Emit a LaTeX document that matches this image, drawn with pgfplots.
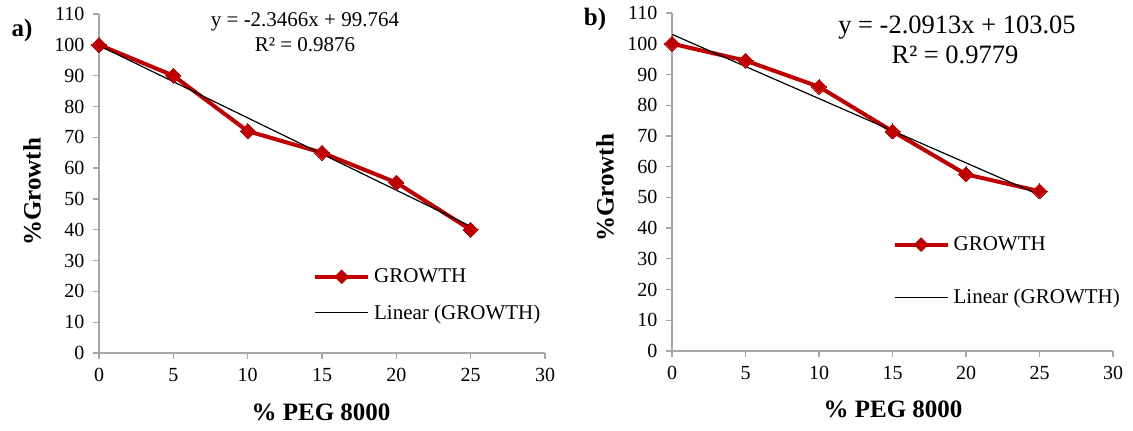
\documentclass[border=0pt]{standalone}
\usepackage{fontspec}
\setmainfont{Liberation Serif}
\usepackage{pgfplots}
\pgfplotsset{compat=1.18}
\definecolor{growthred}{RGB}{192,0,0}
\definecolor{axgray}{RGB}{166,166,166}
\pgfplotsset{
  peg/.style={
    scale only axis,
    anchor=south west,
    xmin=0, xmax=30, ymin=0, ymax=110,
    xtick={0,5,...,30}, ytick={0,10,...,110},
    axis x line=bottom, axis y line=left,
    axis line style={-, draw=axgray, line width=1.2pt},
    tick style={draw=axgray, line width=1.2pt},
    tick align=outside, major tick length=6pt,
    ticklabel style={font=\fontsize{20}{22}\selectfont},
    xticklabel style={yshift=-6pt},
    yticklabel style={xshift=-5pt},
    /pgf/number format/assume math mode=true,
    legend cell align=left,
    legend style={draw=none, fill=none, font=\fontsize{21}{24}\selectfont,
      anchor=north west, /tikz/every odd column/.append style={column sep=2pt}},
  },
  growthplot/.style={growthred, line width=4pt,
    mark=square*, mark size=5.3pt,
    mark options={rotate=45, solid, fill=growthred, draw=growthred, line width=0pt},
    legend image code/.code={
      \draw[growthred, line width=4pt] (0pt,0pt) -- (53pt,0pt);
      \fill[growthred] (22pt,0pt) -- ++(4.5pt,4.5pt) -- ++(4.5pt,-4.5pt) -- ++(-4.5pt,-4.5pt) -- cycle;
    }},
  trendplot/.style={black, line width=1.2pt,
    legend image code/.code={
      \draw[black, line width=1.2pt] (0pt,0pt) -- (53pt,0pt);
    }},
}
\begin{document}
\begin{tikzpicture}[x=1pt,y=1pt]
\path[use as bounding box] (0pt,0pt) rectangle (1133pt,431pt);

% Panel a
\begin{axis}[peg, at={(99pt,78pt)}, width=446pt, height=339pt,
  legend style={at={(0.473,0.26)}, row sep=16pt}]
  \addplot[growthplot] coordinates {(0,100) (5,90) (10,72) (15,65) (20,55.3) (25,40)};
  \addlegendentry{GROWTH}
  \addplot[trendplot] coordinates {(0,99.764) (25,41.099)};
  \addlegendentry{Linear (GROWTH)}
\end{axis}

% Panel b
\begin{axis}[peg, at={(672pt,80pt)}, width=441pt, height=338pt,
  legend style={at={(0.493,0.35)}, row sep=33pt}]
  \addplot[growthplot] coordinates {(0,100) (5,94.5) (10,86) (15,71.5) (20,57.5) (25,52)};
  \addlegendentry{GROWTH}
  \addplot[trendplot] coordinates {(0,103.05) (25,50.7675)};
  \addlegendentry{Linear (GROWTH)}
\end{axis}

% panel letters
\node[font=\fontsize{25}{28}\selectfont\bfseries] at (22pt,401pt) {a)};
\node[font=\fontsize{25}{28}\selectfont\bfseries] at (595pt,412pt) {b)};

% equations
\node[anchor=base, font=\fontsize{21}{24}\selectfont] at (305pt,404pt) {y = -2.3466x + 99.764};
\node[anchor=base, font=\fontsize{21}{24}\selectfont] at (305pt,379pt) {R² = 0.9876};
\node[anchor=base, font=\fontsize{26.5}{30}\selectfont] at (957pt,397pt) {y = -2.0913x + 103.05};
\node[anchor=base, font=\fontsize{26.5}{30}\selectfont] at (955pt,367pt) {R² = 0.9779};

% axis labels
\node[rotate=90, font=\fontsize{25}{28}\selectfont\bfseries] at (32pt,239pt) {\%Growth};
\node[rotate=90, font=\fontsize{25}{28}\selectfont\bfseries] at (605pt,243pt) {\%Growth};
\node[anchor=base, font=\fontsize{25}{28}\selectfont\bfseries] at (321pt,10pt) {\% PEG 8000};
\node[anchor=base, font=\fontsize{25}{28}\selectfont\bfseries] at (893pt,13pt) {\% PEG 8000};
\end{tikzpicture}
\end{document}
